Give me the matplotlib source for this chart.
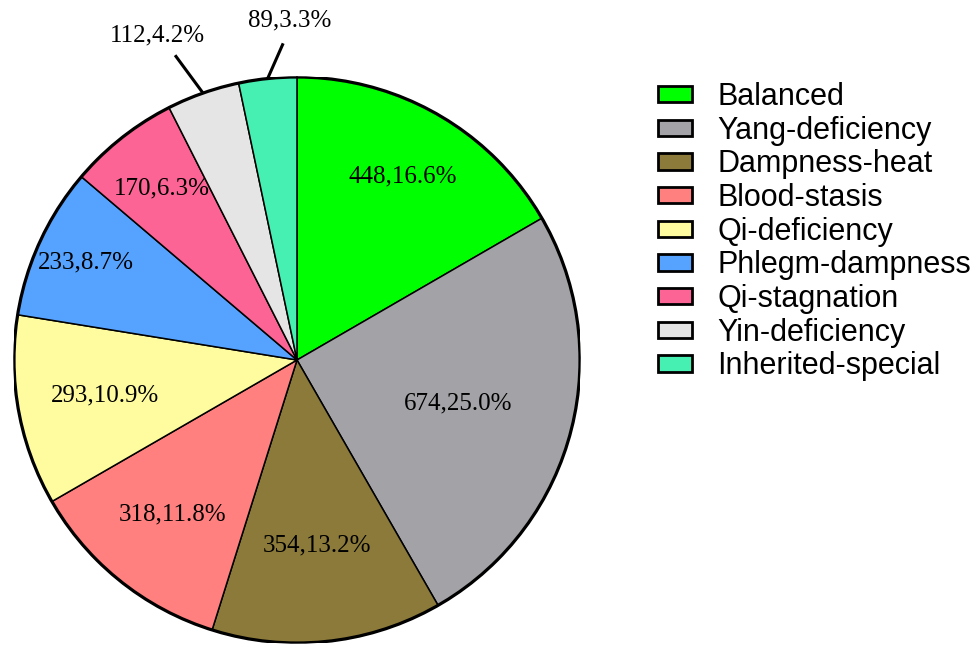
import numpy as np
import matplotlib
matplotlib.use("Agg")
import matplotlib.pyplot as plt
from matplotlib.patches import Patch, Circle

categories = ["Balanced", "Yang-deficiency", "Dampness-heat", "Blood-stasis",
              "Qi-deficiency", "Phlegm-dampness", "Qi-stagnation",
              "Yin-deficiency", "Inherited-special"]
counts = [448, 674, 354, 318, 293, 233, 170, 112, 89]
colors = ["#00FF00", "#A3A2A6", "#8B7A3A", "#FF807E", "#FFFCA0",
          "#55A2FF", "#FC6496", "#E5E5E5", "#45F0B2"]

# layout: radial distance of inside labels (None -> outside with leader)
label_dist = [0.75, 0.59, 0.66, 0.70, 0.69, 0.82, 0.77, None, None]
# outside labels: (line end angle from top, cw deg; line end r; text angle; text r)
outside = {7: (-21.8, 1.16, -23.3, 1.25), 8: (-2.5, 1.12, -1.3, 1.20)}

fig = plt.figure(figsize=(9.74, 6.46), dpi=100)
W, H = 974, 646
cx, cy, R = 297, 360, 283
ax = fig.add_axes([(cx - R) / W, (H - cy - R) / H, 2 * R / W, 2 * R / H])
ax.axis("off")

wedges, _ = ax.pie(counts, colors=colors, startangle=90, counterclock=False,
                   radius=1, center=(0, 0),
                   wedgeprops=dict(edgecolor="black", linewidth=1.1))
ax.set_aspect("auto")
ax.set_xlim(-1, 1)
ax.set_ylim(-1, 1)
ax.add_patch(Circle((0, 0), 1, fill=False, edgecolor="black", lw=2.3, zorder=5))

total = sum(counts)
serif = ["Liberation Serif", "DejaVu Serif"]

def cw_to_xy(cw_deg, r):
    t = np.deg2rad(90 - cw_deg)
    return r * np.cos(t), r * np.sin(t)

for i, (w, n) in enumerate(zip(wedges, counts)):
    txt = f"{n},{100 * n / total:.1f}%"
    mid = np.deg2rad((w.theta1 + w.theta2) / 2)
    if label_dist[i] is not None:
        d = label_dist[i]
        ax.text(d * np.cos(mid), d * np.sin(mid), txt, ha="center", va="center",
                fontsize=18, family=serif, zorder=6)
    else:
        la, lr, ta, tr = outside[i]
        x0, y0 = np.cos(mid), np.sin(mid)
        x1, y1 = cw_to_xy(la, lr)
        ax.plot([x0, x1], [y0, y1], color="black", lw=2.2, clip_on=False,
                zorder=6, solid_capstyle="butt")
        tx, ty = cw_to_xy(ta, tr)
        ax.text(tx, ty, txt, ha="center", va="center", fontsize=18,
                family=serif, zorder=6)

handles = [Patch(facecolor=c, edgecolor="black", linewidth=2.0) for c in colors]
fig.legend(handles, categories, loc="upper left",
           bbox_to_anchor=(658 / W, 1 - 82 / H), frameon=False,
           prop=dict(family=["Liberation Sans", "DejaVu Sans"], size=22),
           handlelength=1.1, handleheight=0.45, handletextpad=0.85,
           labelspacing=0.12, borderpad=0, borderaxespad=0)

fig.savefig("out.png", dpi=100)
